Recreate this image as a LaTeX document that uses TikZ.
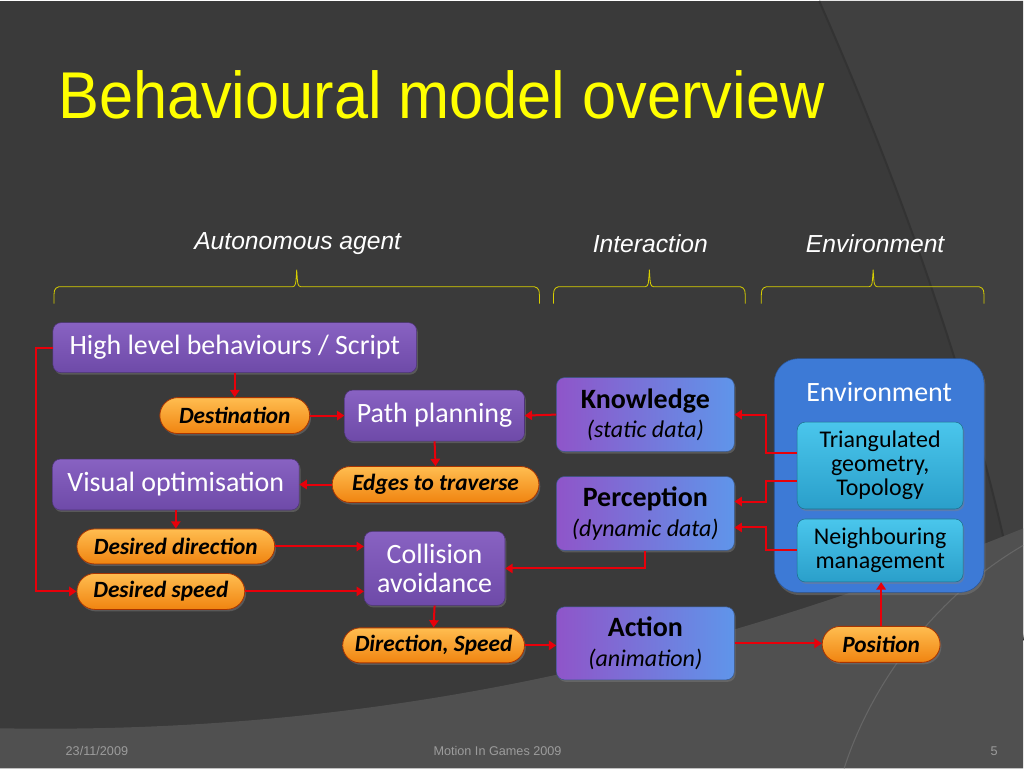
\documentclass[tikz,border=0pt]{standalone}
\usepackage{fontspec}
\setmainfont{Carlito}
\newfontfamily\arialfont{Liberation Sans}
\usetikzlibrary{positioning,arrows.meta,shapes.misc,shadows}

\definecolor{bggray}{HTML}{3A3A3A}
\definecolor{bgband}{HTML}{404040}
\definecolor{bgedge}{HTML}{333333}
\definecolor{bglight}{HTML}{505050}
\definecolor{titleyel}{HTML}{FFFF00}
\definecolor{braceyel}{HTML}{D8CF00}
\definecolor{agenttop}{HTML}{8862C2}
\definecolor{agentbot}{HTML}{6E4AA8}
\definecolor{linkleft}{HTML}{8F55C9}
\definecolor{linkright}{HTML}{5F95EA}
\definecolor{pilltop}{HTML}{FFBD50}
\definecolor{pillbot}{HTML}{F08410}
\definecolor{pillline}{HTML}{A83400}
\definecolor{envblue}{HTML}{3D7AD6}
\definecolor{cyantop}{HTML}{4AC6EC}
\definecolor{cyanbot}{HTML}{2A9FCA}
\definecolor{flowred}{HTML}{E8000A}
\definecolor{footgray}{HTML}{9C9C9C}

\tikzset{
  sz/.style 2 args={minimum width={#1*0.75pt}, minimum height={#2*0.75pt}},
  box/.style={rounded corners=6pt, inner sep=0pt, align=center,
    font=\fontsize{21}{22}\selectfont,
    drop shadow={shadow xshift=1pt, shadow yshift=-1.5pt, opacity=0.45}},
  agentbox/.style={box, top color=agenttop, bottom color=agentbot, draw=agentbot!70!black, text=white},
  linkbox/.style={box, left color=linkleft, right color=linkright, draw=linkright!60!black, text=black},
  datapill/.style={rounded rectangle, inner sep=0pt, top color=pilltop, bottom color=pillbot,
    draw=pillline, line width=0.6pt, text=black,
    font=\fontsize{17.5}{18}\selectfont\bfseries\itshape,
    drop shadow={shadow xshift=1pt, shadow yshift=-1.5pt, opacity=0.45}},
  envbox/.style={rounded corners=18pt, fill=envblue, draw=envblue!70!black,
    drop shadow={shadow xshift=1pt, shadow yshift=-2pt, opacity=0.45}},
  cyanbox/.style={box, font=\fontsize{18}{18}\selectfont, top color=cyantop, bottom color=cyanbot, draw=cyanbot!70!black, text=black},
  flow/.style={draw=flowred, line width=1.5pt, -{Triangle[length=5.5pt,width=7pt]}},
  bracket/.style={draw=braceyel, line width=0.6pt},
  grouplbl/.style={font=\arialfont\itshape\fontsize{18.5}{18}\selectfont, text=white},
  foot/.style={font=\arialfont\fontsize{9.5}{10}\selectfont, text=footgray}
}

\begin{document}
\begin{tikzpicture}[x=0.75pt, y=-0.75pt]
    % fondo
    \fill[bggray] (0,0) rectangle (1024,768);
    \fill[bgband] (820,0) .. controls (930,250) and (1000,480) .. (1024,640) -- (1024,0) -- cycle;
    \draw[bgedge, line width=1.5pt] (820,0) .. controls (930,250) and (1000,480) .. (1024,640);
    \fill[bglight] (0,728) .. controls (400,735) and (720,650) .. (1024,528) -- (1024,768) -- (0,768) -- cycle;
    \draw[bgband!80!white, line width=0.8pt] (1024,545) .. controls (930,600) and (870,690) .. (845,768);
    \useasboundingbox (0,0) rectangle (1024,768);

    \node[anchor=base west, inner sep=0pt, text=titleyel, font=\arialfont\fontsize{46}{46}\selectfont] (title) at (58,118) {\scalebox{1}[1.08]{Behavioural model overview}};

    % grupos
    \node[grouplbl] (agentlbl) at (298,243) {Autonomous agent};
    \node[grouplbl] (interlbl) at (651,243) {Interaction};
    \node[grouplbl] (envlbl) at (876,243) {Environment};
    \foreach \a/\b/\m in {54/540/297, 554/746/650, 762/985/874}
    \draw[bracket] (\a,303) .. controls (\a,288) .. ({\a+5},286) -- ({\m-4},286) .. controls ({\m-1},285) .. (\m,269)
        .. controls ({\m+1},285) .. ({\m+4},286) -- ({\b-5},286) .. controls (\b,288) .. (\b,303);

    % agente
    \node[agentbox, sz={364}{50}] (hlb) at (235,347) {High level behaviours / Script};
    \node[datapill, sz={150}{36}] (dest) at (235,415) {Destination};
    \node[agentbox, sz={180}{51}] (path) at (435,415) {Path planning};
    \node[agentbox, sz={247}{51}] (vis) at (176,484) {Visual optimisation};
    \node[datapill, sz={207}{36}] (edges) at (436,484) {Edges to traverse};
    \node[datapill, sz={198}{35}] (ddir) at (176,546) {Desired direction};
    \node[datapill, sz={168}{36}] (dspd) at (161,591) {Desired speed};
    \node[agentbox, sz={141}{74}] (coll) at (435,568) {Collision\\avoidance};
    \node[datapill, sz={182}{35}] (dirspd) at (434,645) {Direction, Speed};

    % interaccion
    \node[linkbox, sz={178}{74}] (know) at (646,414) {\textbf{Knowledge}\\\fontsize{18}{22}\selectfont\itshape(static data)};
    \node[linkbox, sz={178}{74}] (perc) at (646,513) {\textbf{Perception}\\\fontsize{18}{22}\selectfont\itshape(dynamic data)};
    \node[linkbox, sz={178}{73}] (act) at (646,643) {\textbf{Action}\\\fontsize{18}{22}\selectfont\itshape(animation)};

    % entorno
    \node[envbox, sz={210}{234}] (env) at (880,475) {};
    \node[text=white, font=\fontsize{21}{22}\selectfont] (envtitle) at (880,391) {Environment};
    \node[cyanbox, sz={166}{87}] (tri) at (881,465) {Triangulated\\geometry,\\Topology};
    \node[cyanbox, sz={166}{63}] (nbr) at (881,550) {Neighbouring\\management};
    \node[datapill, sz={118}{36}] (pos) at (882,644) {Position};

    % flechas
    \draw[flow] (hlb.south) -- (dest.north);
    \draw[flow] (dest.east) -- (path.west);
    \draw[flow] (know.west) -- (path.east);
    \draw[flow] (path.south) -- (edges.north);
    \draw[flow] (edges.west) -- (vis.east);
    \draw[flow] (vis.south) -- (ddir.north);
    \draw[flow] (ddir.east) -- (ddir.east -| coll.west);
    \draw[flow] (dspd.east) -- (dspd.east -| coll.west);
    \draw[flow] (hlb.west) -- ++(-17,0) |- (dspd.west);
    \draw[flow] (perc.south) |- (coll.east);
    \draw[flow] (coll.south) -- (dirspd.north);
    \draw[flow] (dirspd.east) -- (dirspd.east -| act.west);
    \draw[flow] (act.east) -- (act.east -| pos.west);
    \draw[flow] (pos.north) -- (pos.north |- nbr.south);
    \draw[flow] ([yshift=9.75pt]tri.west) -- ++(-31,0) |- (know.east);
    \draw[flow] ([yshift=-11.25pt]tri.west) -- ++(-31,0) |- ([yshift=9pt]perc.east);
    \draw[flow] (nbr.west) -- ++(-31,0) |- ([yshift=-10.5pt]perc.east);

    % pie
    \node[foot] (date) at (97,751) {23/11/2009};
    \node[foot] (event) at (498,751) {Motion In Games 2009};
    \node[foot] (page) at (995,751) {5};
\end{tikzpicture}
\end{document}
